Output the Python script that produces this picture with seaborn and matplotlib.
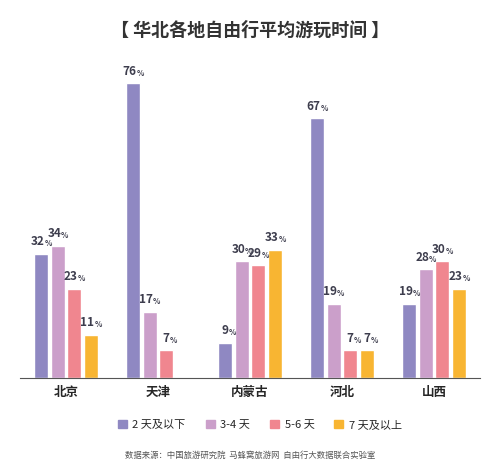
import matplotlib.pyplot as plt
import seaborn as sns
import pandas as pd

regions = ['北京', '天津', '内蒙古', '河北', '山西']
durations = ['2 天及以下', '3-4 天', '5-6 天', '7 天及以上']
values = {
    '2 天及以下': [32, 76, 9, 67, 19],
    '3-4 天': [34, 17, 30, 19, 28],
    '5-6 天': [23, 7, 29, 7, 30],
    '7 天及以上': [11, 0, 33, 7, 23],
}
colors = ['#8f88c2', '#cb9fca', '#f0868f', '#f8b532']

rows = []
for d in durations:
    for r, v in zip(regions, values[d]):
        rows.append({'region': r, 'duration': d, 'value': v})
df = pd.DataFrame(rows)

sns.set_style('white')
plt.rcParams['font.family'] = ['Noto Sans CJK SC', 'DejaVu Sans']

fig = plt.figure(figsize=(5, 4.72), dpi=100)
ax = fig.add_axes([0.04, 0.2, 0.92, 0.64])
sns.barplot(data=df, x='region', y='value', hue='duration', hue_order=durations,
            palette=colors, saturation=1, width=0.72, gap=0.15, ax=ax, legend=False)

for patch, (_, row) in zip(ax.patches, df.iterrows()):
    v = row['value']
    if v == 0:
        continue
    cx = patch.get_x() + patch.get_width() / 2
    ax.annotate(str(v), (cx, v), xytext=(2.5, 4), textcoords='offset points',
                ha='right', va='bottom', fontsize=8.5, fontweight='bold', color='#3d3d4d')
    ax.annotate('%', (cx, v), xytext=(2.5, 4), textcoords='offset points',
                ha='left', va='bottom', fontsize=5.5, fontweight='bold', color='#3d3d4d')

ax.set_ylim(0, 78)
ax.set_xlim(-0.5, 4.5)
ax.set_yticks([])
ax.set_xlabel('')
ax.set_ylabel('')
ax.tick_params(axis='x', length=0, pad=6)
for lbl in ax.get_xticklabels():
    lbl.set_fontweight('bold')
    lbl.set_fontsize(9)
for s in ['top', 'right', 'left']:
    ax.spines[s].set_visible(False)
ax.spines['bottom'].set_color('#555555')

fig.text(0.5, 0.935, '【 华北各地自由行平均游玩时间 】', ha='center', va='center',
         fontsize=13, fontweight='bold', color='#333333')

handles = [plt.Rectangle((0, 0), 1, 1, color=c) for c in colors]
fig.legend(handles, durations, loc='center', bbox_to_anchor=(0.52, 0.1), ncol=4,
           frameon=False, fontsize=8, handlelength=0.8, handleheight=0.8,
           columnspacing=1.8, handletextpad=0.5)

fig.text(0.5, 0.035, '数据来源：中国旅游研究院  马蜂窝旅游网  自由行大数据联合实验室',
         ha='center', va='center', fontsize=6, color='#555555')

fig.savefig('out.png', dpi=100)
